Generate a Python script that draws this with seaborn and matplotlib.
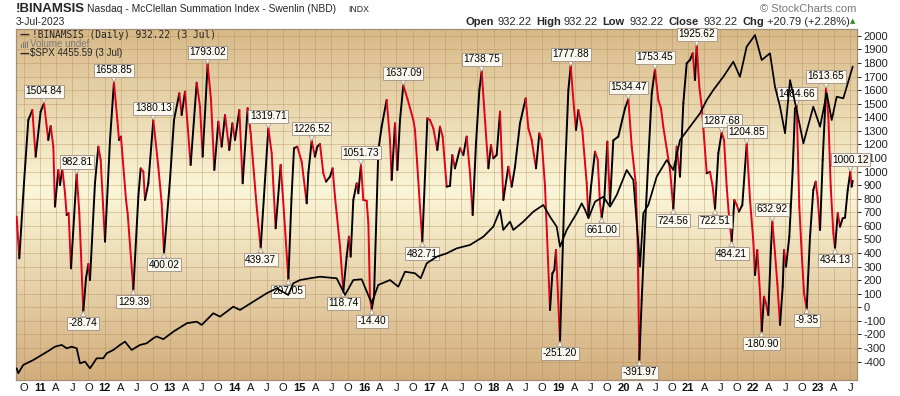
import numpy as np
import matplotlib
matplotlib.use('Agg')
import matplotlib.pyplot as plt
import seaborn as sns
from matplotlib.collections import LineCollection
from matplotlib.colors import LinearSegmentedColormap
from matplotlib.patches import Rectangle

# Nasdaq summation index (decimal year, value)
sum_t = [2010.640, 2010.681, 2010.753, 2010.820, 2010.882, 2010.933, 2011.010, 2011.062, 2011.128, 2011.165,
         2011.206, 2011.231, 2011.283, 2011.309, 2011.344, 2011.386, 2011.411, 2011.442, 2011.478, 2011.566,
         2011.607, 2011.668, 2011.710, 2011.746, 2011.771, 2011.848, 2011.900, 2011.936, 2012.003, 2012.080,
         2012.141, 2012.193, 2012.219, 2012.249, 2012.327, 2012.352, 2012.440, 2012.517, 2012.553, 2012.594,
         2012.620, 2012.671, 2012.748, 2012.825, 2012.877, 2012.913, 2013.005, 2013.067, 2013.149, 2013.185,
         2013.237, 2013.324, 2013.417, 2013.468, 2013.509, 2013.586, 2013.638, 2013.689, 2013.751, 2013.802,
         2013.854, 2013.920, 2013.967, 2014.008, 2014.075, 2014.126, 2014.203, 2014.250, 2014.342, 2014.404,
         2014.522, 2014.574, 2014.635, 2014.712, 2014.764, 2014.831, 2014.879, 2014.918, 2014.969, 2015.037,
         2015.114, 2015.139, 2015.191, 2015.242, 2015.278, 2015.319, 2015.370, 2015.412, 2015.473, 2015.514,
         2015.550, 2015.576, 2015.628, 2015.679, 2015.730, 2015.766, 2015.792, 2015.833, 2015.885, 2015.910,
         2015.951, 2015.987, 2016.039, 2016.065, 2016.090, 2016.116, 2016.152, 2016.219, 2016.270, 2016.347,
         2016.399, 2016.425, 2016.476, 2016.512, 2016.553, 2016.604, 2016.666, 2016.759, 2016.784, 2016.897,
         2016.975, 2017.016, 2017.067, 2017.129, 2017.170, 2017.211, 2017.273, 2017.324, 2017.360, 2017.401,
         2017.479, 2017.530, 2017.581, 2017.633, 2017.674, 2017.725, 2017.777, 2017.813, 2017.864, 2017.916,
         2017.957, 2017.993, 2018.044, 2018.096, 2018.147, 2018.224, 2018.276, 2018.327, 2018.404, 2018.492,
         2018.533, 2018.584, 2018.651, 2018.702, 2018.738, 2018.790, 2018.867, 2018.903, 2018.934, 2018.959,
         2019.021, 2019.098, 2019.150, 2019.186, 2019.237, 2019.268, 2019.304, 2019.365, 2019.433, 2019.458,
         2019.499, 2019.561, 2019.603, 2019.638, 2019.664, 2019.704, 2019.751, 2019.792, 2019.843, 2019.920,
         2020.024, 2020.075, 2020.127, 2020.189, 2020.220, 2020.244, 2020.281, 2020.332, 2020.383, 2020.436,
         2020.486, 2020.537, 2020.579, 2020.614, 2020.718, 2020.769, 2020.821, 2020.872, 2020.923, 2020.975,
         2021.026, 2021.068, 2021.103, 2021.130, 2021.170, 2021.207, 2021.242, 2021.284, 2021.335, 2021.376,
         2021.412, 2021.463, 2021.515, 2021.551, 2021.592, 2021.628, 2021.669, 2021.710, 2021.747, 2021.782,
         2021.833, 2021.875, 2021.901, 2021.952, 2022.003, 2022.029, 2022.064, 2022.106, 2022.132, 2022.168,
         2022.199, 2022.234, 2022.271, 2022.296, 2022.337, 2022.373, 2022.415, 2022.456, 2022.476, 2022.507,
         2022.558, 2022.610, 2022.646, 2022.672, 2022.712, 2022.749, 2022.785, 2022.826, 2022.877, 2022.928,
         2022.965, 2022.996, 2023.032, 2023.073, 2023.124, 2023.160, 2023.197, 2023.237, 2023.263, 2023.305,
         2023.340, 2023.382, 2023.417, 2023.459, 2023.499, 2023.520, 2023.536]
sum_v = [668, 361, 914, 1380, 1454, 1110, 1442, 1504.84, 1233, 1336,
         1184, 742, 1012, 901, 1024, 840, 680, 693, 287, 982.81,
         693, -28.74, 214, 319, 201, 914, 1184, 1086, 484, 1233,
         1658.85, 1380, 1233, 1258, 791, 693, 129.39, 815, 1024, 1000,
         791, 914, 1380.13, 1036, 766, 400.02, 938, 1380, 1577, 1417,
         1589, 1049, 1655, 1479, 1110, 1793.02, 1528, 1012, 1368, 1184,
         1417, 1159, 1356, 1233, 1454, 914, 1467, 1282, 742, 439.37,
         1319.71, 1135, 582, 1049, 693, 207.05, 800, 1172, 1184, 1073,
         766, 988, 1226.52, 1110, 1184, 1204, 988, 926, 963, 1024,
         815, 693, 447, 118.74, 373, 520, 373, 791, 914, 840,
         1051.73, 791, 785, 619, 78, -14.40, 78, 1159, 1331, 1528,
         1233, 938, 1356, 1012, 1380, 1637.09, 1540, 1380, 1307, 482.71,
         1393, 1380, 1319, 1159, 1331, 1258, 889, 895, 1122, 1024,
         1172, 1122, 1258, 988, 680, 1209, 1601, 1738.75, 1380, 1024,
         1196, 1098, 1122, 1442, 791, 1036, 889, 1036, 1356, 1540,
         1319, 1233, 1024, 1282, 1233, 889, -20, 250, 275, 422,
         -251.20, 988, 1601, 1777.88, 1467, 1307, 1454, 1307, 914, 668,
         889, 1147, 1086, 766, 661.00, 791, 1221, 766, 1230, 1258,
         1467, 1534.47, 1184, 914, 447, -391.97, 54, 594, 1086, 1577,
         1753.45, 1528, 1467, 1331, 1012, 724.56, 1184, 963, 1503, 1798,
         1823, 1872, 1675, 1925.62, 1626, 1478, 1258, 988, 999, 889,
         722.51, 1135, 1287.68, 1233, 889, 668, 484.21, 791, 754, 705,
         754, 1036, 1204.85, 791, 484, 238, 422, 103, -180.90, 78,
         29, -57, 398, 632.92, 398, 177, -130, 152, 422, 299,
         520, 1012, 1467, 1484.66, 742, 398, 103, -9.35, 520, 864,
         926, 803, 570, 1086, 1613.65, 1405, 889, 545, 434.13, 693,
         594, 656, 660, 864, 1000.12, 889, 932.22]

# S&P 500 overlay (own hidden scale)
spx_t = [2010.640, 2010.665, 2010.742, 2010.897, 2011.026, 2011.154, 2011.231, 2011.335, 2011.412, 2011.489,
         2011.566, 2011.617, 2011.694, 2011.771, 2011.875, 2011.976, 2012.029, 2012.131, 2012.234, 2012.311,
         2012.414, 2012.543, 2012.646, 2012.748, 2012.800, 2012.902, 2013.056, 2013.263, 2013.417, 2013.494,
         2013.673, 2013.777, 2013.982, 2014.085, 2014.290, 2014.497, 2014.651, 2014.830, 2014.907, 2015.011,
         2015.165, 2015.319, 2015.576, 2015.705, 2015.833, 2015.962, 2016.116, 2016.218, 2016.399, 2016.527,
         2016.630, 2016.784, 2016.872, 2016.965, 2017.119, 2017.273, 2017.428, 2017.633, 2017.838, 2017.992,
         2018.096, 2018.146, 2018.250, 2018.301, 2018.455, 2018.609, 2018.763, 2018.867, 2018.970, 2019.021,
         2019.124, 2019.279, 2019.356, 2019.408, 2019.460, 2019.561, 2019.690, 2019.792, 2019.896, 2020.050,
         2020.152, 2020.229, 2020.255, 2020.306, 2020.383, 2020.512, 2020.667, 2020.769, 2020.872, 2021.026,
         2021.181, 2021.284, 2021.386, 2021.540, 2021.694, 2021.797, 2021.900, 2022.029, 2022.132, 2022.260,
         2022.337, 2022.415, 2022.492, 2022.569, 2022.672, 2022.775, 2022.928, 2023.032, 2023.135, 2023.212,
         2023.289, 2023.391, 2023.536]
spx_v = [1151, 1097, 1188, 1242, 1297, 1352, 1388, 1407, 1370, 1388,
         1370, 1206, 1224, 1151, 1261, 1261, 1316, 1352, 1407, 1443,
         1352, 1407, 1425, 1480, 1500, 1470, 1552, 1644, 1662, 1626,
         1754, 1717, 1826, 1790, 1881, 1973, 2027, 1954, 2082, 2118,
         2137, 2154, 2137, 1954, 2118, 2126, 1863, 2064, 2118, 2045,
         2209, 2192, 2137, 2301, 2373, 2410, 2465, 2502, 2592, 2702,
         2885, 2666, 2757, 2666, 2757, 2866, 2940, 2811, 2702, 2483,
         2666, 2849, 2958, 2885, 2794, 2976, 3030, 2921, 3049, 3323,
         3213, 2520, 2265, 2849, 2940, 3249, 3432, 3323, 3651, 3797,
         3944, 4089, 4199, 4344, 4509, 4344, 4673, 4801, 4527, 4601,
         4235, 4016, 3725, 4308, 3980, 3615, 4016, 3797, 4163, 3870,
         4125, 4108, 4455.59]

# turning points that carry a value box
label_vals = [1504.84, 982.81, -28.74, 1658.85, 129.39, 1380.13, 400.02, 1793.02, 439.37, 1319.71,
              207.05, 1226.52, 118.74, 1051.73, -14.40, 1637.09, 482.71, 1738.75, -251.20, 1777.88,
              661.00, 1534.47, -391.97, 1753.45, 724.56, 1925.62, 722.51, 1287.68, 484.21, 1204.85,
              -180.90, 632.92, 1484.66, -9.35, 1613.65, 434.13, 1000.12]

years = list(range(2011, 2024))
month_frac = [0.0, 0.247, 0.496, 0.748]
month_lab = ['', 'A', 'J', 'O']

RED = '#e3001b'
W, H = 900, 396

sns.set_style('white')
plt.rcParams['font.family'] = ['Liberation Sans', 'DejaVu Sans']

fig = plt.figure(figsize=(9, 3.96), dpi=100)
ax = fig.add_axes([16/W, 1-380/H, 841/W, 351/H])

# tan -> cream -> tan background, lightest a bit above the middle
cm = LinearSegmentedColormap.from_list('bg', [(0, '#d8b988'), (0.46, '#fbf6d8'), (1, '#d2ad7c')])
ax.imshow(np.linspace(0, 1, 256).reshape(-1, 1), cmap=cm, aspect='auto',
          extent=[0, 1, 0, 1], transform=ax.transAxes, zorder=0)

# index line: red when falling, black when rising
pts = np.column_stack([sum_t, sum_v])
segs = np.stack([pts[:-1], pts[1:]], axis=1)
cols = [RED if d < 0 else 'black' for d in np.diff(sum_v)]
ax.add_collection(LineCollection(segs, colors=cols, linewidths=1.4,
                                 capstyle='round', joinstyle='round', zorder=3))

for val in label_vals:
    i = sum_v.index(val)
    peak = sum_v[i] > sum_v[i-1]
    ax.annotate('{:.2f}'.format(val), xy=(sum_t[i], val),
                xytext=(0, 5 if peak else -5), textcoords='offset points',
                ha='center', va='bottom' if peak else 'top', fontsize=7.3, color='black',
                bbox=dict(boxstyle='square,pad=0.15', fc='#fbf8ef', ec='#a89a8c', lw=0.7),
                arrowprops=dict(arrowstyle='wedge,tail_width=0.55,shrink_factor=0.5',
                                fc='#fbf8ef', ec='#a89a8c', lw=0.6, shrinkA=0, shrinkB=0),
                zorder=6)

# x ticks every quarter, year label in bold on January
xt, xl = [2010.748], ['O']
for y in years:
    for f, m in zip(month_frac, month_lab):
        if y + f < 2023.6:
            xt.append(y + f)
            xl.append(m if m else str(y)[2:])
ax.set_xticks(xt)
ax.set_xticklabels(xl)
for lab in ax.get_xticklabels():
    if lab.get_text().isdigit():
        lab.set_fontweight('bold')
ax.tick_params(axis='x', length=0, pad=2.5, labelsize=8, colors='#111')

ax.grid(True, color='#b08a55', alpha=0.38, lw=0.7)
ax.set_xlim(2010.630, 2023.602)
ax.set_ylim(-536, 2051)
for s in ax.spines.values():
    s.set_color('#a38e78')
    s.set_linewidth(0.9)

# SPX on its own hidden axis
ax2 = ax.twinx()
sns.lineplot(x=spx_t, y=spx_v, ax=ax2, color='black', linewidth=1.25)
ax2.set_ylim(1023, 4867)
ax2.set_yticks([])
ax2.set_ylabel('')
for s in ax2.spines.values():
    s.set_visible(False)

# index scale on the right (after twinx, which pushes it left)
ax.set_yticks(range(-400, 2001, 100))
ax.set_yticklabels([str(v) for v in range(-400, 2001, 100)])
ax.yaxis.tick_right()
ax.tick_params(axis='y', which='both', left=False, labelleft=False, right=True, labelright=True,
               length=3, width=0.7, pad=1.5, labelsize=8, colors='#222')

def fx(px):
    return px / W

def fy(py):
    return 1 - py / H

# header
fig.text(fx(16), fy(9), '!BINAMSIS', fontsize=9.5, fontweight='bold', va='center')
fig.text(fx(87), fy(9.5), 'Nasdaq - McClellan Summation Index - Swenlin (NBD)', fontsize=7.4, va='center')
fig.text(fx(348), fy(9.8), 'INDX', fontsize=6.3, va='center')
fig.text(fx(16), fy(22), '3-Jul-2023', fontsize=7.5, va='center')
fig.text(fx(856), fy(9), '\u00a9 StockCharts.com', fontsize=8, color='#777777', ha='right', va='center')

head = [('Open', 466, 'bold'), ('932.22', 497.7, 'normal'), ('High', 536.7, 'bold'), ('932.22', 563.3, 'normal'),
        ('Low', 602.7, 'bold'), ('932.22', 629.3, 'normal'), ('Close', 668.3, 'bold'), ('932.22', 704, 'normal'),
        ('Chg', 742.7, 'bold'), ('+20.79 (+2.28%)', 766.7, 'normal')]
for txt, px, fw in head:
    fig.text(fx(px), fy(22), txt, fontsize=8, fontweight=fw, va='center')
fig.text(fx(853), fy(21.5), '\u25b2', fontsize=5, color='#2e8b2e', ha='center', va='center', family='DejaVu Sans')

# legend block inside the plot
fig.text(fx(20), fy(34.5), '\u2014', fontsize=7, fontweight='bold', va='center', family='DejaVu Sans')
fig.text(fx(31.5), fy(34.5), '!BINAMSIS (Daily) 932.22 (3 Jul)', fontsize=6.9, va='center', family='DejaVu Sans Mono')
for k, hh in enumerate([4, 6, 5, 7]):
    fig.add_artist(Rectangle((fx(20.5 + 2 * k), fy(47.5)), 1.4 / W, hh / H, transform=fig.transFigure,
                             fc='#7a7a7a', ec='none'))
fig.text(fx(29.5), fy(44), 'Volume undef', fontsize=7, color='#7a7a7a', va='center')
fig.text(fx(20), fy(53.5), '\u2014', fontsize=7, fontweight='bold', va='center', family='DejaVu Sans')
fig.text(fx(29.5), fy(53.5), '$SPX 4455.59 (3 Jul)', fontsize=7, va='center')

fig.savefig('out.png', dpi=100)
